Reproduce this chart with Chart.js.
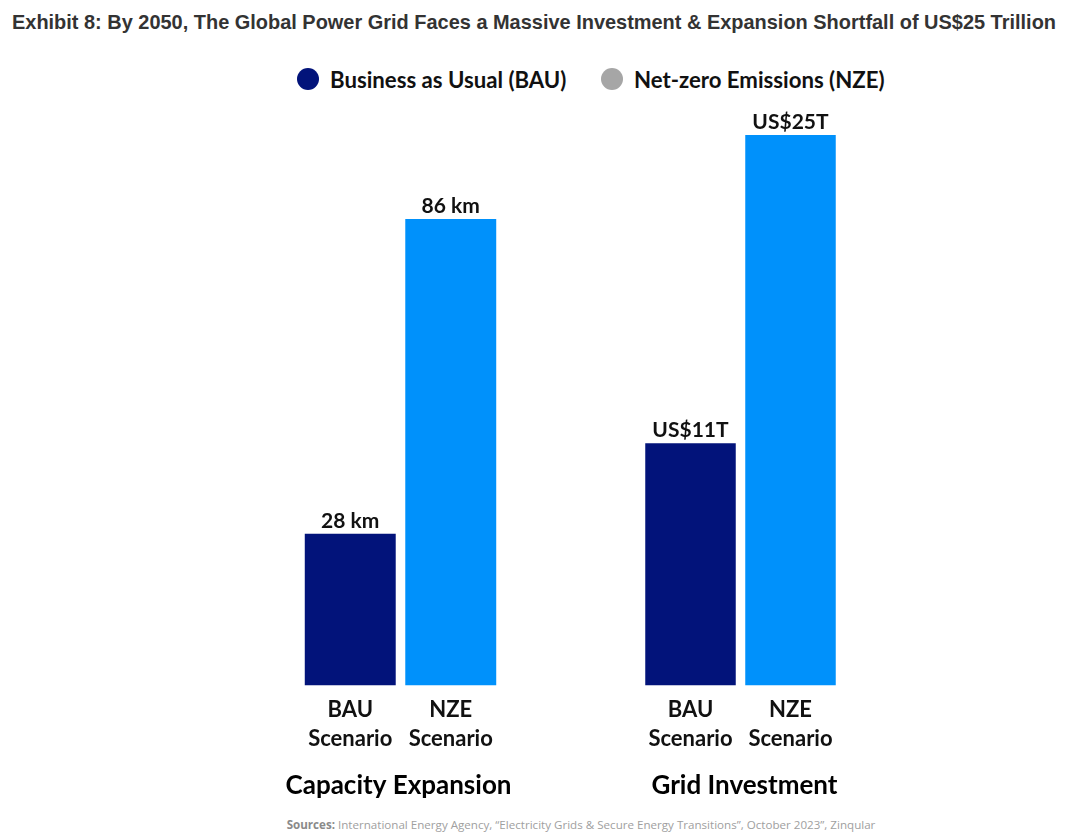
<!DOCTYPE html>
<html>
<head>
<meta charset="utf-8">
<script src="https://cdn.jsdelivr.net/npm/chart.js@4.4.1/dist/chart.umd.min.js"></script>
<style>
  html, body { margin: 0; padding: 0; background: #ffffff; }
  body { width: 1076px; height: 836px; position: relative; overflow: hidden; }
  #title { position: absolute; left: 0; top: 9px; width: 1076px; height: 26px;
           font-family: "Liberation Sans", Arial, sans-serif; font-weight: bold; font-size: 21px;
           color: #333333; white-space: nowrap; line-height: 26px; }
  #title span { position: absolute; left: 534px; top: 0; transform-origin: 0 50%; }
  #legend { position: absolute; left: 0; top: 64px; width: 1076px; height: 30px; }
  .lg { position: absolute; top: 0; height: 30px; display: flex; align-items: center;
        font-family: Lato, "Open Sans", sans-serif; font-weight: bold; font-size: 22.2px; color: #111; }
  .dot { width: 22px; height: 22px; border-radius: 50%; margin-right: 11px; }
  #sources { position: absolute; left: 43px; top: 817px; width: 1076px; text-align: center;
             font-family: "Open Sans", "Noto Sans", sans-serif; font-size: 11.6px; color: #a0a0a0; white-space: nowrap; }
  #sources b { color: #8a8a8a; }
  canvas { position: absolute; }
</style>
</head>
<body>
<div id="title"><span id="titleText">Exhibit 8: By 2050, The Global Power Grid Faces a Massive Investment &amp; Expansion Shortfall of US$25 Trillion</span></div>
<div id="legend">
  <div class="lg" style="left:297px"><div class="dot" style="background:#02137A"></div>Business as Usual (BAU)</div>
  <div class="lg" style="left:601px"><div class="dot" style="background:#a6a6a6"></div>Net-zero Emissions (NZE)</div>
</div>
<div style="position:absolute;left:250px;top:100px;width:300px;height:709px"><canvas id="c1"></canvas></div>
<div style="position:absolute;left:590px;top:100px;width:300px;height:709px"><canvas id="c2"></canvas></div>
<div id="sources"><b>Sources:</b> International Energy Agency, “Electricity Grids &amp; Secure Energy Transitions”, October 2023”, Zinqular</div>

<script>
// ---- data ----
const scenarioLabels = [["BAU", "Scenario"], ["NZE", "Scenario"]];
const capacityValues = [28, 86];
const capacityLabels = ["28 km", "86 km"];
const investmentValues = [11, 25];
const investmentLabels = ["US$11T", "US$25T"];
const panelTitles = ["Capacity Expansion", "Grid Investment"];

const BAU_COLOR = "#02137A";
const NZE_COLOR = "#0091FB";

// fit title width (target 1044px, starting at x=12)
(function(){
  const t = document.getElementById('titleText');
  const w = t.getBoundingClientRect().width;
  const s = 1044 / w;
  t.style.left = '12px';
  t.style.transform = 'scaleX(' + s + ')';
})();

const valueLabelPlugin = {
  id: 'valueLabels',
  afterDatasetsDraw(chart, args, opts) {
    const ctx = chart.ctx;
    const meta = chart.getDatasetMeta(0);
    ctx.save();
    ctx.font = 'bold 21px Lato, "Open Sans", sans-serif';
    ctx.fillStyle = '#111111';
    ctx.textAlign = 'center';
    ctx.textBaseline = 'alphabetic';
    meta.data.forEach((bar, i) => {
      ctx.fillText(opts.labels[i], bar.x, bar.y - 6);
    });
    ctx.restore();
  }
};

// panel title drawn under the category labels (no width clamp)
const panelTitlePlugin = {
  id: 'panelTitle',
  afterDraw(chart, args, opts) {
    const ctx = chart.ctx;
    const area = chart.chartArea;
    ctx.save();
    ctx.font = 'bold 26px Lato, "Open Sans", sans-serif';
    ctx.fillStyle = '#000000';
    ctx.textAlign = 'center';
    ctx.textBaseline = 'middle';
    ctx.fillText(opts.text, (area.left + area.right) / 2 + opts.dx, area.bottom + 100);
    ctx.restore();
  }
};

function makeChart(id, values, labels, title, yMax, padL, padR, dx) {
  return new Chart(document.getElementById(id), {
    type: 'bar',
    data: {
      labels: scenarioLabels,
      datasets: [{
        data: values,
        backgroundColor: [BAU_COLOR, NZE_COLOR],
        borderWidth: 0,
        categoryPercentage: 1.0,
        barPercentage: 0.905
      }]
    },
    options: {
      responsive: true,
      maintainAspectRatio: false,
      animation: false,
      layout: { padding: { top: 35, left: padL, right: padR, bottom: 46 } },
      plugins: {
        legend: { display: false },
        tooltip: { enabled: false },
        valueLabels: { labels: labels },
        panelTitle: { text: title, dx: dx }
      },
      scales: {
        x: {
          grid: { display: false, drawTicks: false },
          border: { display: false },
          ticks: {
            padding: 9,
            color: '#111111',
            font: { family: 'Lato, "Open Sans", sans-serif', weight: 'bold', size: 22, lineHeight: 1.35 }
          }
        },
        y: {
          display: false,
          min: 0,
          max: yMax
        }
      }
    },
    plugins: [valueLabelPlugin, panelTitlePlugin]
  });
}

makeChart('c1', capacityValues, capacityLabels, panelTitles[0], 101.5, 50, 49, -2);
makeChart('c2', investmentValues, investmentLabels, panelTitles[1], 25, 50.5, 49.5, 4);
</script>
</body>
</html>
